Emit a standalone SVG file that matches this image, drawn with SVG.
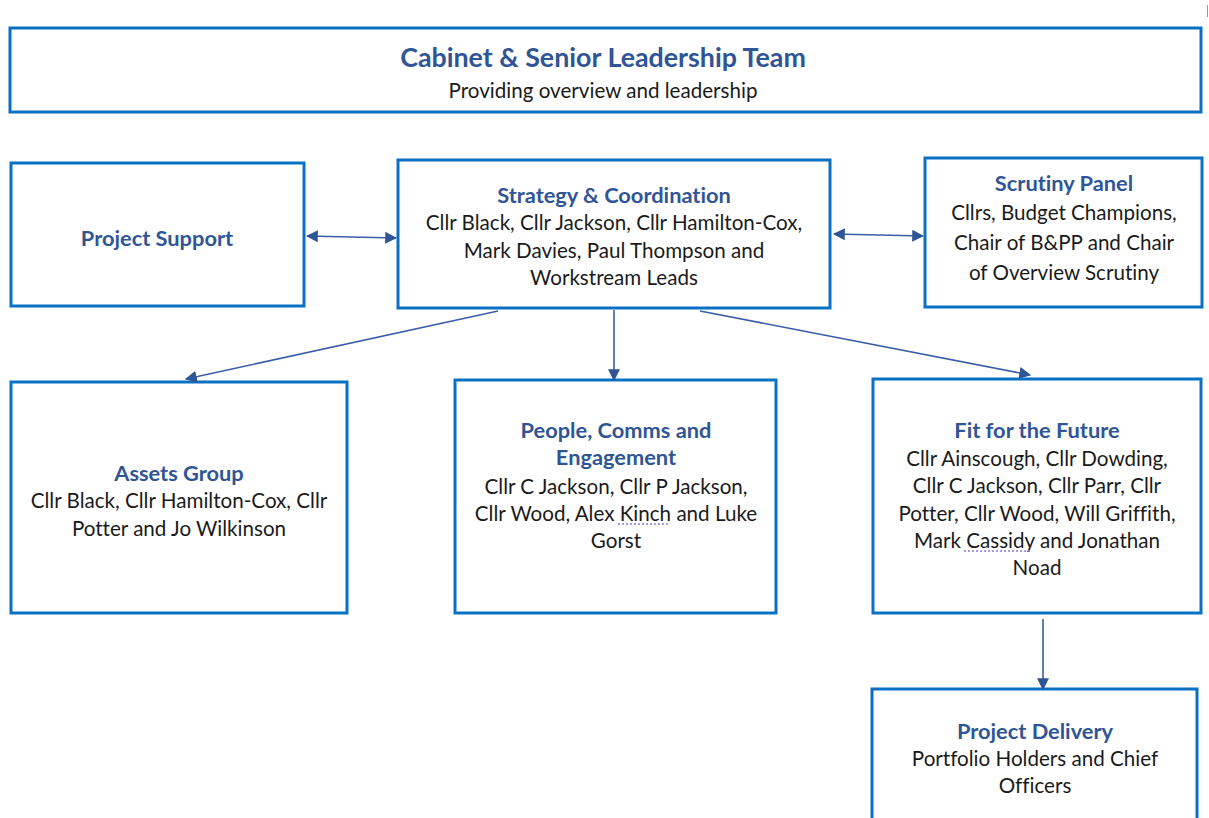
<svg xmlns="http://www.w3.org/2000/svg" width="1209" height="818" viewBox="0 0 1209 818">
<defs>
<style>
.box{fill:#fff;stroke:#0a70c4;stroke-width:3}
text{font-variant-ligatures:none}
.t{font-family:Lato,"Open Sans","Liberation Sans",sans-serif;font-size:21.8px;font-weight:bold;fill:#2f5597;text-anchor:middle}
.b{font-family:Lato,"Open Sans","Liberation Sans",sans-serif;font-size:20.6px;fill:#1a1a1a;text-anchor:middle}
.c{stroke:#3a5ea8;stroke-width:1.6;fill:none}
.sq{stroke:#8a7be0;stroke-width:1.5;stroke-dasharray:2 2;fill:none}
</style>
<marker id="ah" viewBox="0 0 10 10" refX="9" refY="5" markerWidth="12" markerHeight="12" markerUnits="userSpaceOnUse" orient="auto-start-reverse">
<path d="M0,0 L10,5 L0,10 Z" fill="#2f5597"/>
</marker>
</defs>
<rect width="1209" height="818" fill="#fff"/>
<line x1="1207.5" y1="5" x2="1207.5" y2="17" stroke="#999" stroke-width="1"/>

<g id="cabinet">
<rect class="box" x="10" y="28" width="1191" height="84"/>
<text class="t" x="603" y="67" style="font-size:26.8px">Cabinet &amp; Senior Leadership Team</text>
<text class="b" x="603" y="98">Providing overview and leadership</text>
</g>

<g id="project-support">
<rect class="box" x="11" y="163" width="293" height="143"/>
<text class="t" x="157" y="246">Project Support</text>
</g>

<g id="strategy">
<rect class="box" x="398" y="160" width="432" height="148"/>
<text class="t" x="614" y="203">Strategy &amp; Coordination</text>
<text class="b" x="614" y="230">Cllr Black, Cllr Jackson, Cllr Hamilton-Cox,</text>
<text class="b" x="614" y="258">Mark Davies, Paul Thompson and</text>
<text class="b" x="614" y="285">Workstream Leads</text>
</g>

<g id="scrutiny">
<rect class="box" x="925" y="158" width="277" height="149"/>
<text class="t" x="1064" y="191">Scrutiny Panel</text>
<text class="b" x="1064" y="220">Cllrs, Budget Champions,</text>
<text class="b" x="1064" y="250">Chair of B&amp;PP and Chair</text>
<text class="b" x="1064" y="280">of Overview Scrutiny</text>
</g>

<g id="assets">
<rect class="box" x="11" y="382" width="336" height="231"/>
<text class="t" x="179" y="481">Assets Group</text>
<text class="b" x="179" y="508">Cllr Black, Cllr Hamilton-Cox, Cllr</text>
<text class="b" x="179" y="536">Potter and Jo Wilkinson</text>
</g>

<g id="people">
<rect class="box" x="455" y="380" width="321" height="233"/>
<text class="t" x="616" y="438">People, Comms and</text>
<text class="t" x="616" y="465">Engagement</text>
<text class="b" x="616" y="494">Cllr C Jackson, Cllr P Jackson,</text>
<text class="b" x="616" y="521">Cllr Wood, Alex Kinch and Luke</text>
<text class="b" x="616" y="548">Gorst</text>
<path class="sq" d="M618,524 H670"/>
</g>

<g id="fit">
<rect class="box" x="873" y="379" width="328" height="234"/>
<text class="t" x="1037" y="438">Fit for the Future</text>
<text class="b" x="1037" y="466">Cllr Ainscough, Cllr Dowding,</text>
<text class="b" x="1037" y="493">Cllr C Jackson, Cllr Parr, Cllr</text>
<text class="b" x="1037" y="521">Potter, Cllr Wood, Will Griffith,</text>
<text class="b" x="1037" y="548">Mark Cassidy and Jonathan</text>
<text class="b" x="1037" y="575">Noad</text>
<path class="sq" d="M964,551 H1032"/>
</g>

<g id="delivery">
<rect class="box" x="872" y="689" width="325" height="135"/>
<text class="t" x="1035" y="739">Project Delivery</text>
<text class="b" x="1035" y="766">Portfolio Holders and Chief</text>
<text class="b" x="1035" y="793">Officers</text>
</g>

<g id="connectors">
<line class="c" x1="307" y1="236" x2="396" y2="238" marker-start="url(#ah)" marker-end="url(#ah)"/>
<line class="c" x1="834" y1="234" x2="923" y2="236" marker-start="url(#ah)" marker-end="url(#ah)"/>
<line class="c" x1="498" y1="311" x2="186" y2="379" marker-end="url(#ah)"/>
<line class="c" x1="614" y1="310" x2="614" y2="380" marker-end="url(#ah)"/>
<line class="c" x1="700" y1="311" x2="1030" y2="375" marker-end="url(#ah)"/>
<line class="c" x1="1043" y1="619" x2="1043" y2="689" marker-end="url(#ah)"/>
</g>
</svg>
